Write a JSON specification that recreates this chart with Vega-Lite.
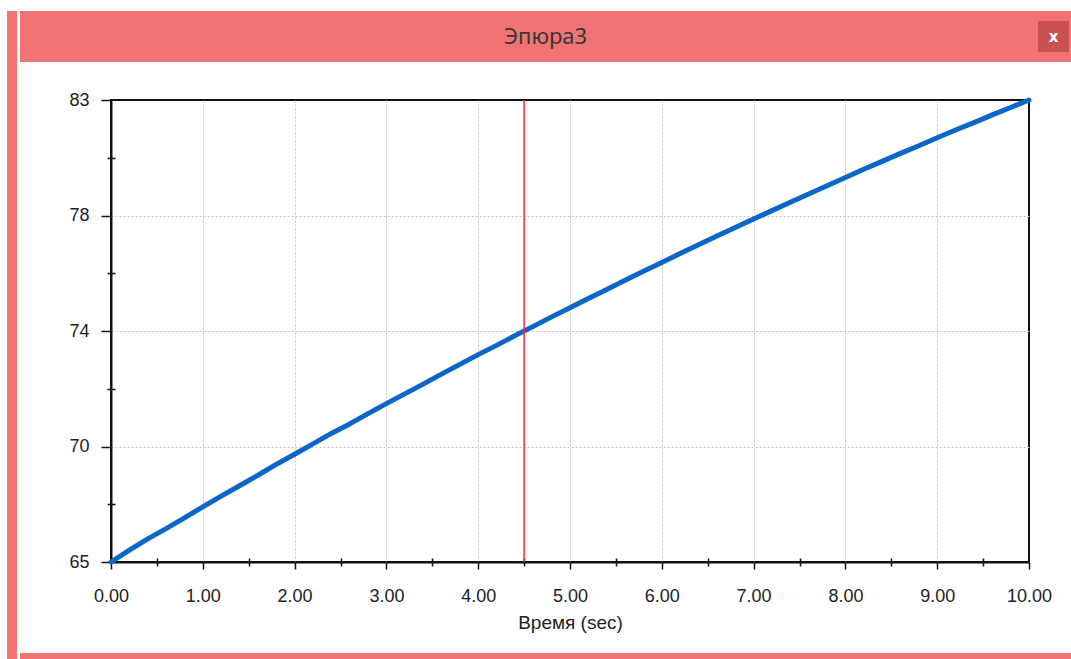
{
  "$schema": "https://vega.github.io/schema/vega-lite/v6.json",
  "background": "white",
  "padding": {"left": 7, "top": 11, "right": 0, "bottom": 0},
  "config": {"view": {"stroke": null}, "font": "Liberation Sans"},
  "datasets": {
    "curve": [
      {"t": 0.0, "v": 65.00}, {"t": 0.2, "v": 65.46}, {"t": 0.4, "v": 65.90}, {"t": 0.6, "v": 66.30},
      {"t": 0.8, "v": 66.72}, {"t": 1.0, "v": 67.15}, {"t": 1.2, "v": 67.57}, {"t": 1.4, "v": 67.97},
      {"t": 1.6, "v": 68.38}, {"t": 1.8, "v": 68.80}, {"t": 2.0, "v": 69.20}, {"t": 2.2, "v": 69.60},
      {"t": 2.4, "v": 70.01}, {"t": 2.6, "v": 70.38}, {"t": 2.8, "v": 70.78}, {"t": 3.0, "v": 71.17},
      {"t": 3.2, "v": 71.55}, {"t": 3.4, "v": 71.93}, {"t": 3.6, "v": 72.32}, {"t": 3.8, "v": 72.70},
      {"t": 4.0, "v": 73.08}, {"t": 4.2, "v": 73.44}, {"t": 4.4, "v": 73.82}, {"t": 4.5, "v": 74.00},
      {"t": 4.6, "v": 74.18}, {"t": 4.8, "v": 74.55}, {"t": 5.0, "v": 74.91}, {"t": 5.2, "v": 75.27},
      {"t": 5.4, "v": 75.62}, {"t": 5.6, "v": 75.98}, {"t": 5.8, "v": 76.33}, {"t": 6.0, "v": 76.67},
      {"t": 6.2, "v": 77.02}, {"t": 6.4, "v": 77.36}, {"t": 6.6, "v": 77.70}, {"t": 6.8, "v": 78.03},
      {"t": 7.0, "v": 78.36}, {"t": 7.2, "v": 78.69}, {"t": 7.4, "v": 79.02}, {"t": 7.6, "v": 79.34},
      {"t": 7.8, "v": 79.66}, {"t": 8.0, "v": 79.98}, {"t": 8.2, "v": 80.30}, {"t": 8.4, "v": 80.61},
      {"t": 8.6, "v": 80.92}, {"t": 8.8, "v": 81.22}, {"t": 9.0, "v": 81.53}, {"t": 9.2, "v": 81.83},
      {"t": 9.4, "v": 82.12}, {"t": 9.6, "v": 82.42}, {"t": 9.8, "v": 82.71}, {"t": 10.0, "v": 83.00}
    ],
    "cursor": [{"t": 4.5}],
    "caption": [{"name": "Эпюра3"}],
    "close": [{"name": "x"}],
    "blank": [{"k": 1}]
  },
  "spacing": 0,
  "hconcat": [
    {
      "width": 10, "height": 648,
      "view": {"fill": "#f17373", "stroke": null},
      "data": {"name": "blank"},
      "mark": {"type": "point", "opacity": 0},
      "encoding": {}
    },
    {
      "spacing": 28,
      "vconcat": [
        {
          "spacing": 0,
          "hconcat": [
            {
              "width": 1013, "height": 51,
              "view": {"fill": "#f17373", "stroke": null},
              "data": {"name": "caption"},
              "mark": {"type": "text", "font": "Noto Sans", "fontSize": 22, "color": "#383838", "dx": 19},
              "encoding": {"text": {"field": "name"}}
            },
            {
              "width": 41, "height": 51,
              "view": {"fill": "#f17373", "stroke": null},
              "data": {"name": "close"},
              "layer": [
                {"mark": {"type": "point", "shape": "square", "filled": true, "size": 961, "color": "#c95151", "opacity": 1}, "encoding": {}},
                {"mark": {"type": "text", "color": "white", "fontWeight": "bold", "fontSize": 15, "font": "DejaVu Sans"}, "encoding": {"text": {"field": "name"}}}
              ]
            }
          ]
        },
        {
          "spacing": 0,
          "vconcat": [
            {
              "spacing": 43,
              "hconcat": [
                {
                  "width": 1, "height": 553,
                  "data": {"name": "blank"},
                  "mark": {"type": "point", "opacity": 0},
                  "encoding": {}
                },
                {
                  "width": 918, "height": 462,
                  "view": {"stroke": "#111111", "strokeWidth": 2},
                  "resolve": {"axis": {"x": "independent", "y": "independent"}},
                  "layer": [
                    {
                      "data": {"name": "curve"},
                      "mark": {"type": "line", "strokeOpacity": 0},
                      "encoding": {
                        "x": {"field": "t", "type": "quantitative", "scale": {"domain": [0, 10], "nice": false, "zero": false},
                          "axis": {"orient": "bottom", "values": [0.5, 1.5, 2.5, 3.5, 4.5, 5.5, 6.5, 7.5, 8.5, 9.5], "offset": -4, "tickSize": 8, "tickWidth": 1.5, "tickColor": "#111111", "labels": false, "domain": false, "grid": false, "title": null}},
                        "y": {"field": "v", "type": "quantitative", "scale": {"domain": [65, 83], "nice": false, "zero": false},
                          "axis": {"orient": "left", "values": [67.25, 71.75, 76.25, 80.75], "offset": -4, "tickSize": 8, "tickWidth": 1.5, "tickColor": "#111111", "labels": false, "domain": false, "grid": false, "title": null}}
                      }
                    },
                    {
                      "data": {"name": "curve"},
                      "mark": {"type": "line", "color": "#0a66c8", "strokeWidth": 5, "strokeCap": "round", "strokeJoin": "round"},
                      "encoding": {
                        "x": {"field": "t", "type": "quantitative",
                          "axis": {"orient": "bottom", "values": [0, 1, 2, 3, 4, 5, 6, 7, 8, 9, 10], "format": ".2f", "labelFontSize": 18, "labelColor": "#222222", "labelPadding": 18, "labelFlush": false, "labelOverlap": false, "tickSize": 7, "tickWidth": 1.5, "tickColor": "#111111", "domainColor": "#111111", "domainWidth": 2, "grid": true, "gridColor": {"condition": {"test": "datum.value == 0 || datum.value == 10", "value": "transparent"}, "value": "#c4c4c4"}, "gridDash": [2, 2], "gridWidth": 1, "title": "Время (sec)", "titleFontSize": 19, "titleFontWeight": "normal", "titleColor": "#222222", "titlePadding": 8}},
                        "y": {"field": "v", "type": "quantitative",
                          "axis": {"orient": "left", "values": [65, 69.5, 74, 78.5, 83], "labelExpr": "datum.value == 69.5 ? '70' : datum.value == 78.5 ? '78' : format(datum.value, 'd')", "labelFontSize": 18, "labelColor": "#222222", "labelPadding": 12, "tickSize": 10, "tickWidth": 1.5, "tickColor": "#111111", "domainColor": "#111111", "domainWidth": 2, "grid": true, "gridColor": {"condition": {"test": "datum.value == 65 || datum.value == 83", "value": "transparent"}, "value": "#c4c4c4"}, "gridDash": [2, 2], "gridWidth": 1, "title": null}}
                      }
                    },
                    {
                      "data": {"name": "cursor"},
                      "mark": {"type": "rule", "color": "#ff2a2a", "strokeWidth": 1.5},
                      "encoding": {"x": {"field": "t", "type": "quantitative", "axis": null}}
                    }
                  ]
                }
              ]
            },
            {
              "width": 1054, "height": 7,
              "view": {"fill": "#f17373", "stroke": null},
              "data": {"name": "blank"},
              "mark": {"type": "point", "opacity": 0},
              "encoding": {}
            }
          ]
        }
      ]
    }
  ]
}
